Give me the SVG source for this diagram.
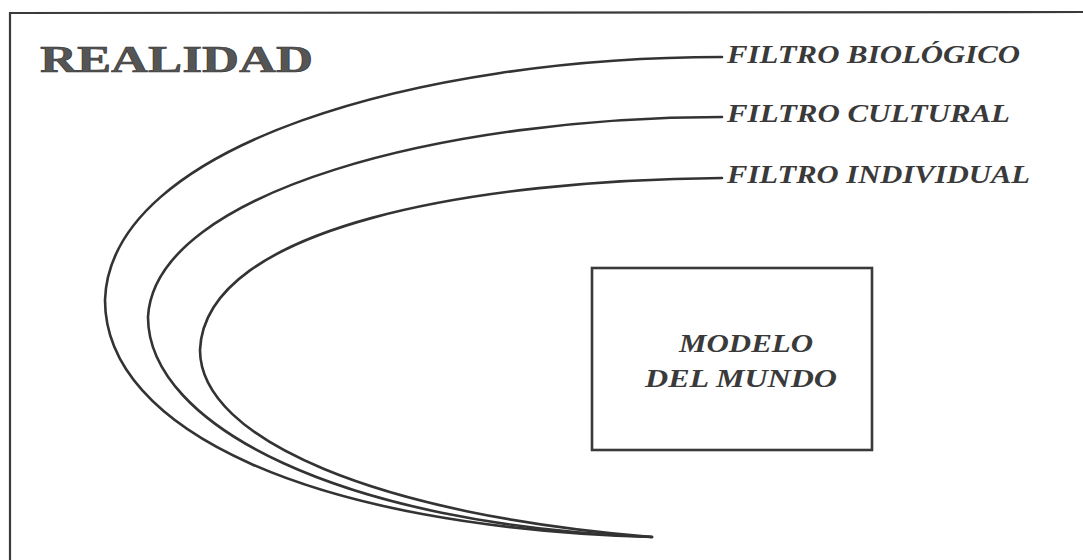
<svg xmlns="http://www.w3.org/2000/svg" width="1083" height="560" viewBox="0 0 1083 560">
<style>
.frame{fill:none;stroke:#3a3a3a;stroke-width:2.2}
.curve{fill:none;stroke:#333;stroke-width:2.6;stroke-linecap:round}
.lbl{font-family:"Liberation Serif","DejaVu Serif",serif;font-style:italic;font-weight:bold;fill:#3a3a3a;font-size:26px}
.box{fill:none;stroke:#3a3a3a;stroke-width:2.6}
.title{font-family:"Liberation Serif","DejaVu Serif",serif;font-weight:bold;fill:#555;stroke:#333;stroke-width:0.6;font-size:38px}
.model{font-family:"Liberation Serif","DejaVu Serif",serif;font-style:italic;font-weight:bold;fill:#3a3a3a;font-size:25px}
</style>
<rect width="1083" height="560" fill="#fff"/>
<g id="frame">
<path class="frame" d="M10,560 L10,13 L1083,12"/>
</g>
<g id="realidad">
<text class="title" x="40" y="72" textLength="273" lengthAdjust="spacingAndGlyphs">REALIDAD</text>
</g>
<g id="connectors">
<path id="filtro-biologico-curve" class="curve" d="M722,57 C420,57 110,145 105,300 C105,430 310,527 652,537"/>
<path id="filtro-cultural-curve" class="curve" d="M722,117 C450,117 155,190 148,317 C148,425 340,525 652,537"/>
<path id="filtro-individual-curve" class="curve" d="M722,178 C480,180 205,225 200,350 C200,440 380,515 652,537"/>
</g>
<g id="filtro-biologico">
<text class="lbl" x="727" y="63" textLength="293" lengthAdjust="spacingAndGlyphs">FILTRO BIOLÓGICO</text>
</g>
<g id="filtro-cultural">
<text class="lbl" x="727" y="122" textLength="283" lengthAdjust="spacingAndGlyphs">FILTRO CULTURAL</text>
</g>
<g id="filtro-individual">
<text class="lbl" x="727" y="183" textLength="303" lengthAdjust="spacingAndGlyphs">FILTRO INDIVIDUAL</text>
</g>
<g id="modelo-del-mundo">
<rect class="box" x="592" y="268" width="280" height="182"/>
<text class="model" x="746" y="352" text-anchor="middle" textLength="134" lengthAdjust="spacingAndGlyphs">MODELO</text>
<text class="model" x="741" y="387" text-anchor="middle" textLength="192" lengthAdjust="spacingAndGlyphs">DEL MUNDO</text>
</g>
</svg>
